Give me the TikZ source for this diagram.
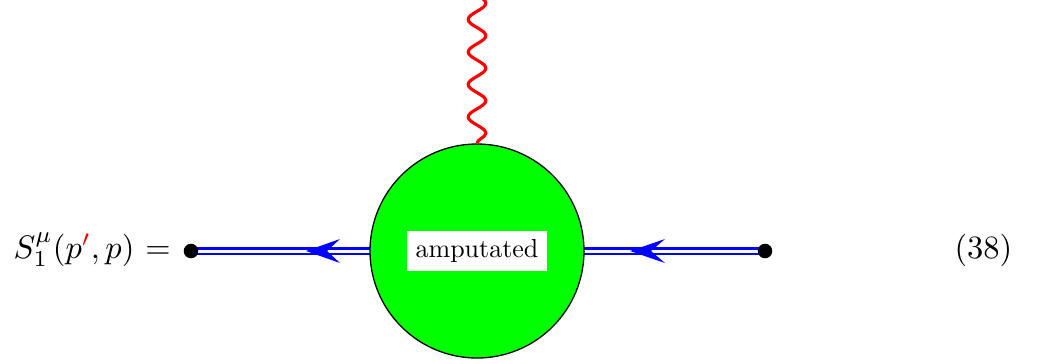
\documentclass[tikz,border=0pt]{standalone}
\usetikzlibrary{decorations.pathmorphing,backgrounds}
\tikzset{
  dot/.style={circle,fill=black,inner sep=0pt,minimum size=5.6pt},
  blob/.style={circle,draw=black,line width=0.5pt,fill=green,minimum size=82.3pt,inner sep=0pt},
  fermion/.style={draw=blue,line width=1.1pt,double=white,double distance=1.15pt},
  arrowfill/.style={fill=blue},
  photon/.style={draw=red,line width=1.2pt,decorate,decoration={snake,mirror,segment length=12.5pt,amplitude=3.4pt}},
  boxlabel/.style={fill=white,inner sep=3.4pt},
  eqtext/.style={inner sep=0pt,scale=1.25,transform shape},
}
\begin{document}
\begin{tikzpicture}[x=0.3846pt,y=-0.3846pt]
\useasboundingbox (0,0) rectangle (1038,363);
\clip (0,0) rectangle (1038,363);
% nodes
\node[blob] (c) at (477,251) {};
\node[boxlabel] (amp) at (477,251) {amputated};
\node[dot] (l) at (191,251) {};
\node[dot] (r) at (765,251) {};
\coordinate (ptop) at (477,-60);
% fermion lines behind the blob
\begin{pgfonlayer}{background}
\draw[fermion] (l.center) -- (c.center);
\draw[fermion] (r.center) -- (c.center);
\end{pgfonlayer}
% arrow heads
\fill[arrowfill] (306,251) -- (340,239) -- (327,251) -- (340,263) -- cycle;
\fill[arrowfill] (630,251) -- (665,239) -- (651,251) -- (665,263) -- cycle;
% photon
\draw[photon] (c.north) -- (ptop);
% labels
\node[eqtext,anchor=base west] (lhs) at (13,258) {$S_1^{\mu}(p{\color{red}'},p)$};
\node[eqtext,anchor=base] (eq) at (158,258) {$=$};
\node[eqtext,anchor=base east] (num) at (1013,258) {(38)};
\end{tikzpicture}
\end{document}
